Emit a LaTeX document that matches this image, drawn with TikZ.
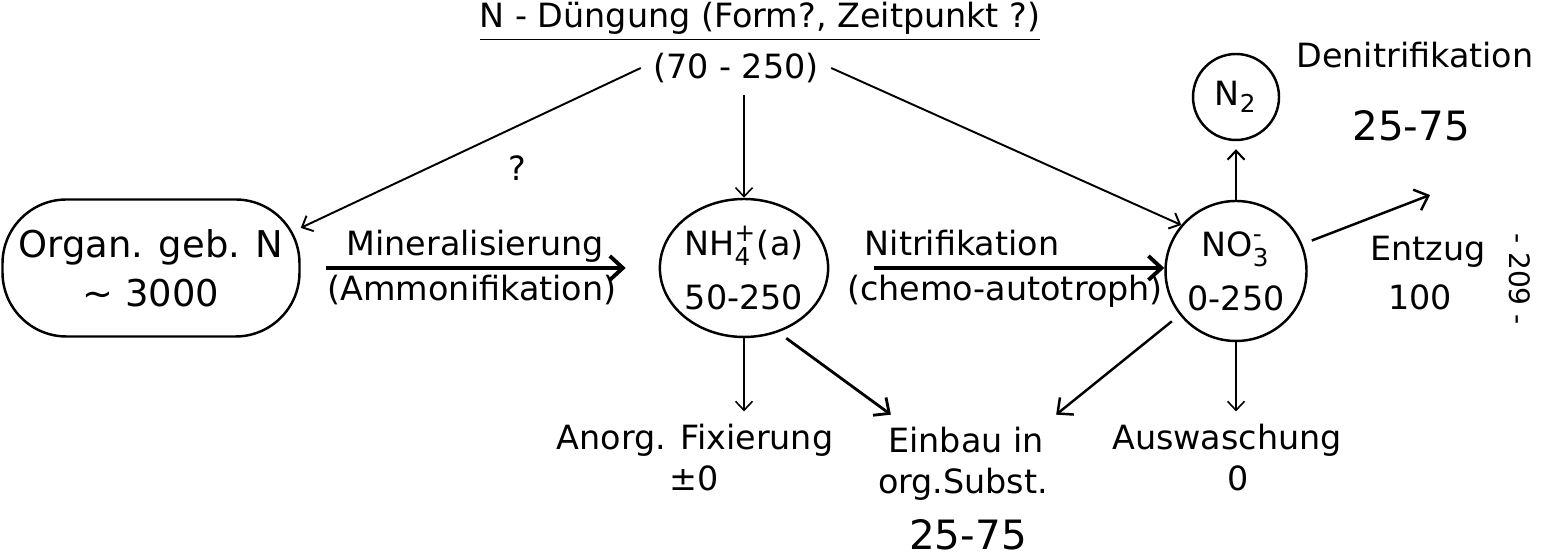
\documentclass[tikz,border=0pt]{standalone}
\usepackage{fontspec}
\setmainfont{DejaVu Sans}
\usetikzlibrary{arrows.meta,positioning,calc,shapes.geometric}
\newcommand{\ionidx}[1]{\mbox{\fontsize{7}{8}\selectfont #1}}

\begin{document}
\begin{tikzpicture}[
  font=\fontsize{9.5}{11.4}\selectfont,
  pool/.style={draw,ellipse,line width=0.7pt,inner sep=0pt,align=center},
  flow/.style={line width=0.45pt,-{Straight Barb[length=0.9mm,width=1.7mm]}},
  midflow/.style={line width=0.8pt,-{Straight Barb[length=1.2mm,width=2.2mm]}},
  bigflow/.style={line width=1.1pt,-{Straight Barb[length=1.3mm,width=2.4mm]}},
  big/.style={font=\fontsize{11.5}{13}\selectfont}
]
\useasboundingbox (0,0) rectangle (15.42,5.55);
% fertiliser input
\node (title) at (7.60,5.33) {\underline{N - Düngung (Form?, Zeitpunkt ?)}};
\node (amount) at (7.36,4.87) {(70 - 250)};
\node (query) at (5.17,3.87) {?};
% pools
\node[draw,rounded corners=0.64cm,line width=0.7pt,minimum width=2.97cm,minimum height=1.37cm,align=center,font=\fontsize{10.5}{12}\selectfont] (organ) at (1.51,2.87) {Organ. geb. N\\[2pt]\textasciitilde{} 3000};
\node[pool,minimum width=1.49cm,minimum height=1.38cm] (nh) at (7.44,2.87) {NH$^{\ionidx{+}}_{\ionidx{4}}$(a)\\[4pt]50-250};
\node[pool,minimum width=1.41cm,minimum height=1.40cm] (no) at (12.36,2.84) {NO$^{\ionidx{-}}_{\ionidx{3}}$\\[4pt]0-250};
\node[pool,minimum width=0.86cm,minimum height=0.86cm] (ntwo) at (12.36,4.58) {N$_{\ionidx{2}}$};
% process labels
\node[anchor=base] (miner) at (4.75,2.99) {Mineralisierung};
\node[anchor=base] (ammon) at (4.72,2.54) {(Ammonifikation)};
\node[anchor=base] (nitri) at (9.62,2.99) {Nitrifikation};
\node[anchor=base] (chemo) at (10.05,2.54) {(chemo-autotroph)};
\node (denitr) at (14.15,5.00) {Denitrifikation};
\node[big] (denitrval) at (14.11,4.29) {25-75};
\node (entzug) at (14.28,3.03) {Entzug};
\node (entzugval) at (14.20,2.58) {100};
\node (fix) at (6.95,1.15) {Anorg. Fixierung};
\node (fixval) at (6.94,0.77) {±0};
\node (einbau) at (9.66,1.15) {Einbau in};
\node (subst) at (9.63,0.71) {org.Subst.};
\node[big] (einbauval) at (9.68,0.20) {25-75};
\node (ausw) at (12.27,1.15) {Auswaschung};
\node (auswval) at (12.38,0.77) {0};
\node[rotate=-90,font=\fontsize{8}{9}\selectfont] (page) at (15.20,2.76) {- 209 -};
\coordinate (entzugtip) at (14.30,3.60);
% flows
\draw[flow,line width=0.55pt] (amount.west) -- (organ.15);
\draw[flow] (amount.south -| nh.north) -- (nh.north);
\draw[flow,line width=0.55pt] (amount.east) -- (no.140);
\draw[bigflow,shorten <=2.5mm,shorten >=3.3mm] (organ.east) -- (nh.west);
\draw[bigflow,shorten <=4.5mm] (nh.east) -- (nh.east -| no.west);
\draw[flow,line width=0.6pt,shorten >=0.8mm] (no.north) -- (ntwo.south);
\draw[midflow,line width=0.7pt,shorten <=1mm] (no.22) -- (entzugtip);
\draw[flow] (nh.south) -- (nh.south |- fix.north);
\draw[midflow,shorten <=1mm] (nh.-62) -- ([xshift=1.5mm]einbau.north west);
\draw[midflow,line width=0.7pt,shorten <=1mm] (no.218) -- (einbau.north east);
\draw[flow] (no.south) -- (no.south |- ausw.north);
\end{tikzpicture}
\end{document}
